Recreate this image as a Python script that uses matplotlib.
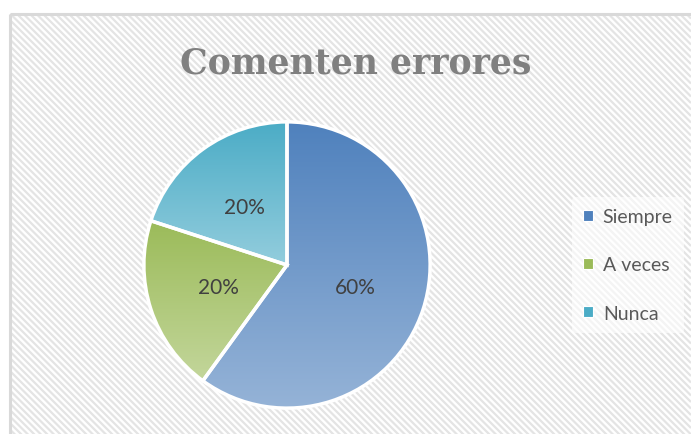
import numpy as np
import matplotlib.pyplot as plt
from matplotlib.patches import Rectangle
from matplotlib.colors import LinearSegmentedColormap

labels = ["Siempre", "A veces", "Nunca"]
values = [60, 20, 20]
top_colors = ["#4F81BD", "#9BBB59", "#4BACC6"]
bottom_colors = ["#95B3D7", "#C3D69B", "#93CDDD"]
title = "Comenten errores"

W, H = 691, 435
fig = plt.figure(figsize=(W / 100, H / 100), dpi=100)
fig.patch.set_facecolor("white")

# background: striped chart area with light border
bg = fig.add_axes([0, 0, 1, 1], zorder=0)
bg.set_xlim(0, W)
bg.set_ylim(H, 0)
bg.axis("off")
for c in np.arange(-W, H + 10, 6.5):
    xs = np.array([0, W])
    bg.plot(xs, xs + c, color="#E4E4E4", lw=1.6, solid_capstyle="butt", zorder=1)
# mask outside frame
bg.add_patch(Rectangle((0, 0), W, 15, facecolor="white", edgecolor="none", zorder=2))
bg.add_patch(Rectangle((0, 0), 10, H, facecolor="white", edgecolor="none", zorder=2))
bg.add_patch(Rectangle((10, 15), W, H, facecolor="none", edgecolor="#D9D9D9", lw=2.2, zorder=3))

bg.text(356, 63, title, ha="center", va="center", fontsize=25, fontweight="bold",
        family="DejaVu Serif", color="#808080", zorder=4)

# pie
cx, cy, r = 287, 266, 146
ax = fig.add_axes([(cx - r) / W, (H - cy - r) / H, 2 * r / W, 2 * r / H], zorder=1)
wedges, _, autotexts = ax.pie(values, startangle=90, counterclock=False, radius=1,
                              colors=top_colors, autopct="%1.0f%%", pctdistance=0.5,
                              wedgeprops=dict(edgecolor="white", linewidth=2.5),
                              textprops=dict(fontsize=15, color="#404040", family="Lato"))
for w, ct, cb in zip(wedges, top_colors, bottom_colors):
    ext = w.get_path().get_extents()
    cmap = LinearSegmentedColormap.from_list("g", [cb, ct])
    grad = np.linspace(0, 1, 256).reshape(-1, 1)
    im = ax.imshow(grad, cmap=cmap, origin="lower", aspect="auto",
                   extent=[ext.x0, ext.x1, ext.y0, ext.y1], zorder=1)
    im.set_clip_path(w)
    w.set_facecolor("none")
    w.set_zorder(2)
for t in autotexts:
    t.set_zorder(3)
ax.set_xlim(-1.02, 1.02)
ax.set_ylim(-1.02, 1.02)
ax.axis("off")

# legend
handles = [Rectangle((0, 0), 1, 1, facecolor=c, edgecolor="white", lw=0.8) for c in top_colors]
leg = fig.legend(handles, labels, loc="center left", bbox_to_anchor=(562 / W, 1 - 266 / H),
                 frameon=True, handlelength=0.5, handleheight=0.5,
                 handletextpad=0.5, labelspacing=1.6, borderpad=0.6,
                 prop=dict(family="Lato", size=14))
leg.get_frame().set_facecolor("white")
leg.get_frame().set_alpha(0.6)
leg.get_frame().set_edgecolor("none")
for t in leg.get_texts():
    t.set_color("#595959")

fig.savefig("out.png", dpi=100)
